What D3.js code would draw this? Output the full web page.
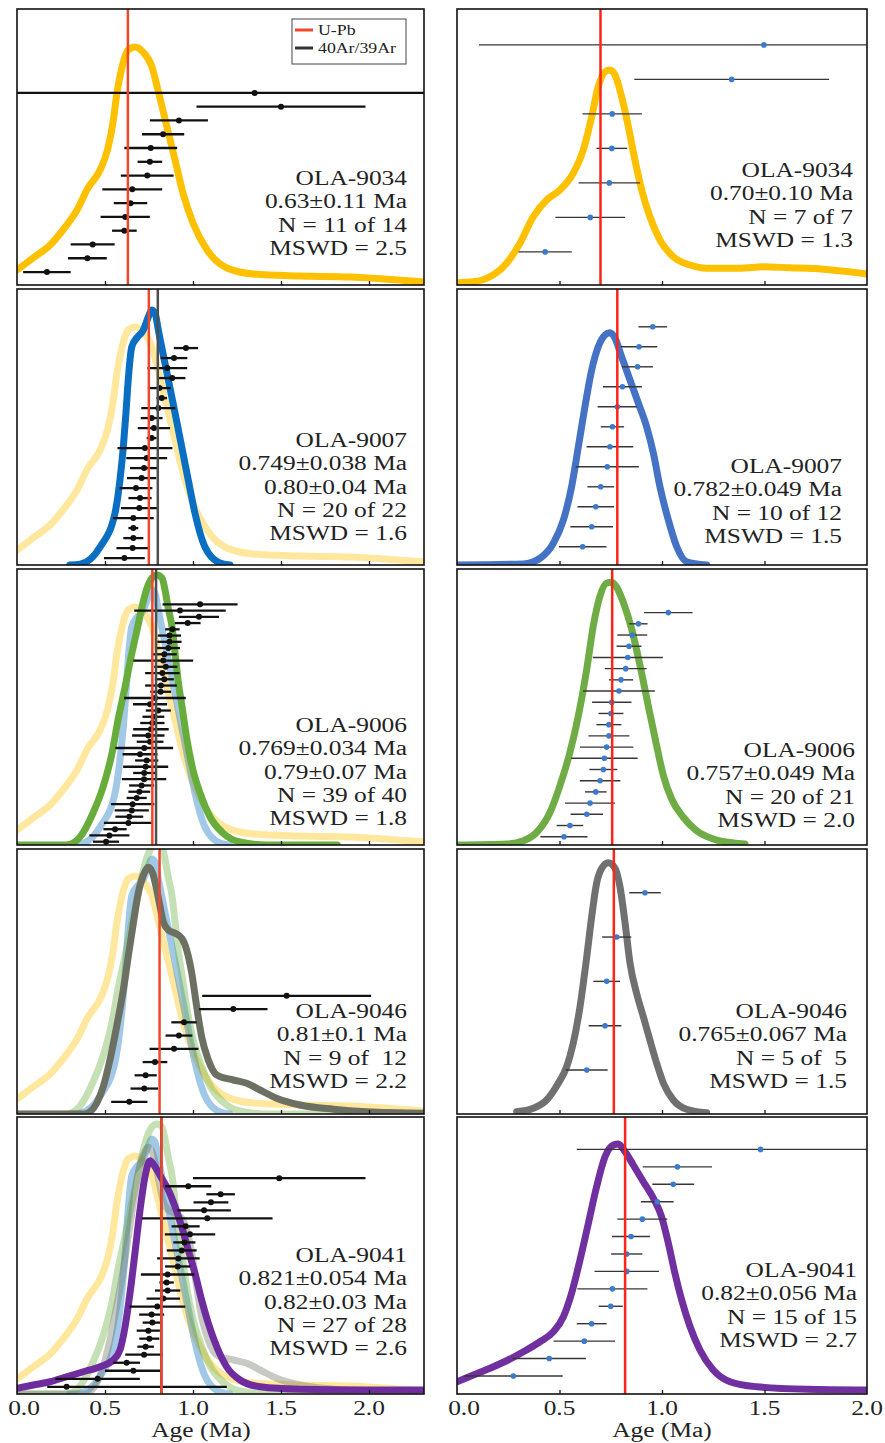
<!DOCTYPE html>
<html>
<head>
<meta charset="utf-8">
<script src="https://cdn.jsdelivr.net/npm/d3@7"></script>
<style>
  html, body { margin: 0; padding: 0; background: #fff; }
  svg { display: block; }
  text { font-family: "Liberation Serif", "Times New Roman", serif; fill: #222; white-space: pre; }
</style>
</head>
<body>
<svg id="chart" width="885" height="1443"></svg>
<script>
// ---------------------------------------------------------------
// Samples, in panel order (top to bottom)
// ---------------------------------------------------------------
const samples = ["OLA-9034", "OLA-9007", "OLA-9006", "OLA-9046", "OLA-9041"];

// Axis ticks
const tickValues = [0.0, 0.5, 1.0, 1.5, 2.0];
const tickLabels = ["0.0", "0.5", "1.0", "1.5", "2.0"];
const axisTitle = "Age (Ma)";
const legendLabels = ["U-Pb", "40Ar/39Ar"];

// ---------------------------------------------------------------
// Left column: single-grain ages (Ma) and 1-sigma errors, oldest on top
// ---------------------------------------------------------------
const leftAges9034 = [1.35, 1.50, 0.92, 0.83, 0.76, 0.755, 0.74, 0.655, 0.645, 0.615, 0.61, 0.43, 0.40, 0.17];
const leftErrs9034 = [1.5, 0.48, 0.165, 0.12, 0.15, 0.07, 0.15, 0.17, 0.095, 0.14, 0.07, 0.125, 0.11, 0.135];

const leftAges9007 = [0.960, 0.892, 0.854, 0.882, 0.809, 0.822, 0.803, 0.765, 0.778, 0.765, 0.727, 0.737,
                      0.722, 0.708, 0.676, 0.699, 0.695, 0.661, 0.661, 0.661, 0.657, 0.610];
const leftErrs9007 = [0.069, 0.076, 0.113, 0.075, 0.065, 0.03, 0.097, 0.062, 0.092, 0.028, 0.156, 0.116,
                      0.08, 0.083, 0.093, 0.066, 0.104, 0.116, 0.028, 0.057, 0.092, 0.116];

const leftAges9006 = [1.04, 0.926, 1.034, 0.970, 0.883, 0.866, 0.866, 0.86, 0.837, 0.831, 0.845, 0.826, 0.837,
                      0.818, 0.816, 0.784, 0.756, 0.803, 0.775, 0.769, 0.761, 0.746, 0.756, 0.723, 0.699, 0.737,
                      0.731, 0.723, 0.722, 0.708, 0.695, 0.680, 0.657, 0.652, 0.638, 0.633, 0.557, 0.525, 0.506];
const leftErrs9006 = [0.213, 0.26, 0.114, 0.073, 0.041, 0.066, 0.069, 0.066, 0.071, 0.17, 0.066, 0.098, 0.054,
                      0.09, 0.059, 0.175, 0.097, 0.071, 0.062, 0.069, 0.101, 0.092, 0.076, 0.164, 0.099, 0.066,
                      0.128, 0.063, 0.126, 0.071, 0.062, 0.057, 0.123, 0.097, 0.079, 0.139, 0.066, 0.114, 0.074];

const leftAges9046 = [1.532, 1.229, 0.949, 0.920, 0.892, 0.784, 0.731, 0.723, 0.638];
const leftErrs9046 = [0.48, 0.194, 0.072, 0.076, 0.139, 0.07, 0.063, 0.078, 0.103];

const leftAges9041 = [1.49, 0.973, 1.157, 1.102, 1.063, 1.081, 0.958, 0.983, 0.951, 0.936, 0.917, 0.913, 0.856,
                      0.850, 0.856, 0.831, 0.797, 0.765, 0.769, 0.746, 0.752, 0.731, 0.722, 0.623, 0.661, 0.458, 0.282];
// a pair is an asymmetric error [minus, plus]
const leftErrs9041 = [0.49, 0.131, 0.081, 0.099, 0.152, 0.371, 0.08, 0.143, 0.063, 0.085, 0.121, 0.072, 0.152,
                      0.041, 0.072, 0.095, 0.159, 0.071, 0.055, 0.066, 0.057, 0.047, 0.107, 0.076, 0.161, 0.24, [0.11, 0.91]];

// Left column: probability density curves [age Ma, relative probability]
const leftKde9034 = [[0,0.060],[0.091,0.108],[0.188,0.160],[0.261,0.220],[0.341,0.300],[0.403,0.388],[0.472,0.460],
  [0.517,0.548],[0.545,0.648],[0.568,0.768],[0.597,0.872],[0.631,0.940],[0.670,0.952],[0.716,0.932],[0.767,0.872],
  [0.801,0.780],[0.852,0.632],[0.898,0.500],[0.943,0.368],[1.0,0.248],[1.08,0.140],[1.193,0.068],[1.341,0.044],
  [1.608,0.036],[1.892,0.032],[2.313,0.012]];
const leftKde9007 = [[0.30,0],[0.358,0.003],[0.472,0.072],[0.557,0.208],[0.585,0.34],[0.604,0.472],[0.619,0.608],
  [0.632,0.74],[0.652,0.872],[0.68,0.908],[0.718,0.94],[0.746,0.992],[0.765,1.02],[0.784,1.008],[0.803,0.94],
  [0.822,0.872],[0.86,0.74],[0.898,0.608],[0.936,0.472],[0.973,0.34],[1.011,0.208],[1.068,0.072],[1.153,0.008],[1.21,0]];
const leftKde9006 = [[0,0],[0.28,0],[0.358,0.032],[0.432,0.128],[0.489,0.232],[0.540,0.368],[0.574,0.5],[0.614,0.632],
  [0.648,0.752],[0.682,0.86],[0.710,0.952],[0.739,1.028],[0.767,1.068],[0.795,1.08],[0.824,1.068],[0.841,1.02],
  [0.858,0.952],[0.881,0.872],[0.898,0.768],[0.915,0.66],[0.938,0.552],[0.966,0.42],[1.0,0.3],[1.04,0.208],
  [1.097,0.112],[1.17,0.048],[1.267,0.012],[1.42,0],[1.82,0]];
const leftKde9046 = [[0,0],[0.38,0],[0.415,0.009],[0.453,0.043],[0.49,0.109],[0.528,0.216],[0.566,0.349],[0.604,0.496],
  [0.632,0.629],[0.661,0.763],[0.689,0.883],[0.718,0.956],[0.746,0.987],[0.771,0.963],[0.794,0.896],[0.813,0.829],
  [0.831,0.769],[0.86,0.736],[0.898,0.723],[0.936,0.703],[0.964,0.656],[0.993,0.563],[1.021,0.429],[1.049,0.309],
  [1.087,0.216],[1.135,0.156],[1.229,0.136],[1.305,0.123],[1.381,0.096],[1.475,0.063],[1.608,0.036],[1.797,0.019],
  [1.987,0.009],[2.313,0.003]];
const leftKde9041 = [[0,0.023],[0.093,0.036],[0.188,0.049],[0.282,0.069],[0.377,0.089],[0.472,0.109],[0.547,0.136],
  [0.585,0.176],[0.614,0.269],[0.642,0.403],[0.670,0.563],[0.699,0.736],[0.727,0.869],[0.756,0.933],[0.784,0.909],
  [0.822,0.863],[0.860,0.816],[0.898,0.749],[0.936,0.669],[0.973,0.576],[1.011,0.483],[1.049,0.376],[1.087,0.283],
  [1.135,0.189],[1.191,0.109],[1.267,0.056],[1.381,0.029],[1.608,0.019],[1.987,0.016],[2.313,0.016]];

// Left column: weighted mean U-Pb age and 40Ar/39Ar age (Ma)
const leftUPb = [0.63, 0.749, 0.769, 0.81, 0.821];
const leftArAr = [null, 0.80, 0.79, null, 0.82];

const leftText9034 = ["OLA-9034", "0.63±0.11 Ma", "N = 11 of 14", "MSWD = 2.5"];
const leftText9007 = ["OLA-9007", "0.749±0.038 Ma", "0.80±0.04 Ma", "N = 20 of 22", "MSWD = 1.6"];
const leftText9006 = ["OLA-9006", "0.769±0.034 Ma", "0.79±0.07 Ma", "N = 39 of 40", "MSWD = 1.8"];
const leftText9046 = ["OLA-9046", "0.81±0.1 Ma", "N = 9 of  12", "MSWD = 2.2"];
const leftText9041 = ["OLA-9041", "0.821±0.054 Ma", "0.82±0.03 Ma", "N = 27 of 28", "MSWD = 2.6"];

// ---------------------------------------------------------------
// Right column
// ---------------------------------------------------------------
const rightAges9034 = [1.497, 1.34, 0.757, 0.755, 0.743, 0.65, 0.43];
const rightErrs9034 = [1.39, 0.475, 0.145, 0.075, 0.15, 0.17, 0.13];

const rightAges9007 = [0.955, 0.888, 0.881, 0.807, 0.782, 0.758, 0.746, 0.733, 0.701, 0.677, 0.657, 0.613];
const rightErrs9007 = [0.07, 0.089, 0.075, 0.095, 0.096, 0.057, 0.114, 0.154, 0.065, 0.089, 0.104, 0.116];

const rightAges9006 = [1.031, 0.885, 0.855, 0.839, 0.833, 0.823, 0.8, 0.79, 0.755, 0.751, 0.741, 0.741, 0.730,
                       0.719, 0.714, 0.698, 0.677, 0.649, 0.633, 0.551, 0.522];
const rightErrs9006 = [0.118, 0.045, 0.073, 0.061, 0.171, 0.102, 0.059, 0.175, 0.096, 0.061, 0.061, 0.1, 0.13,
                       0.162, 0.068, 0.099, 0.053, 0.122, 0.079, 0.065, 0.115];

const rightAges9046 = [0.917, 0.779, 0.730, 0.722, 0.633];
const rightErrs9046 = [0.077, 0.071, 0.065, 0.08, 0.102];

const rightAges9041 = [1.481, 1.075, 1.055, 0.977, 0.904, 0.849, 0.828, 0.828, 0.758, 0.75, 0.657, 0.621, 0.45, 0.275];
const rightErrs9041 = [0.897, 0.169, 0.102, 0.08, 0.122, 0.093, 0.076, 0.157, 0.171, 0.059, 0.073, 0.15, 0.179, 0.241];

const rightKde9034 = [[0,0.009],[0.08,0.013],[0.161,0.033],[0.242,0.087],[0.307,0.167],[0.372,0.273],[0.437,0.34],
  [0.502,0.38],[0.567,0.447],[0.616,0.54],[0.657,0.673],[0.689,0.793],[0.722,0.853],[0.746,0.86],[0.771,0.84],
  [0.803,0.753],[0.836,0.633],[0.868,0.5],[0.901,0.38],[0.941,0.273],[0.99,0.18],[1.055,0.113],[1.137,0.08],
  [1.218,0.067],[1.38,0.067],[1.494,0.073],[1.624,0.069],[1.787,0.063],[2.0,0.044]];
const rightKde9007 = [[0,0],[0.324,0.004],[0.405,0.027],[0.47,0.087],[0.519,0.18],[0.559,0.313],[0.592,0.473],
  [0.624,0.633],[0.657,0.78],[0.689,0.873],[0.722,0.92],[0.746,0.929],[0.771,0.907],[0.803,0.833],[0.844,0.74],
  [0.885,0.647],[0.925,0.553],[0.958,0.447],[0.99,0.313],[1.031,0.18],[1.072,0.073],[1.12,0.013],[1.218,0]];
const rightKde9006 = [[0,0],[0.242,0.004],[0.324,0.017],[0.389,0.051],[0.454,0.131],[0.502,0.237],[0.551,0.371],
  [0.592,0.517],[0.633,0.704],[0.665,0.877],[0.698,0.997],[0.73,1.048],[0.755,1.051],[0.779,1.031],[0.811,0.971],
  [0.852,0.864],[0.893,0.717],[0.933,0.557],[0.974,0.397],[1.007,0.277],[1.047,0.184],[1.104,0.111],[1.169,0.057],
  [1.25,0.024],[1.348,0.008],[1.405,0.004]];
const rightKde9046 = [[0.291,0.009],[0.372,0.023],[0.437,0.056],[0.494,0.123],[0.535,0.189],[0.567,0.283],[0.6,0.429],
  [0.633,0.629],[0.657,0.789],[0.681,0.923],[0.706,0.983],[0.738,1.005],[0.771,0.983],[0.795,0.909],[0.82,0.763],
  [0.844,0.603],[0.876,0.483],[0.909,0.389],[0.941,0.296],[0.974,0.203],[1.007,0.123],[1.055,0.056],[1.12,0.019],
  [1.218,0.005]];
const rightKde9041 = [[0,0.049],[0.08,0.076],[0.161,0.103],[0.242,0.133],[0.324,0.169],[0.405,0.209],[0.47,0.249],
  [0.519,0.309],[0.559,0.403],[0.6,0.536],[0.641,0.683],[0.681,0.829],[0.722,0.949],[0.763,0.996],[0.787,1.0],
  [0.82,0.969],[0.86,0.916],[0.909,0.849],[0.958,0.783],[0.998,0.709],[1.031,0.603],[1.063,0.483],[1.096,0.376],
  [1.137,0.269],[1.185,0.176],[1.25,0.096],[1.332,0.049],[1.462,0.029],[1.706,0.019],[2.0,0.016]];

const rightUPb = [0.70, 0.782, 0.757, 0.765, 0.82];

const rightText9034 = ["OLA-9034", "0.70±0.10 Ma", "N = 7 of 7", "MSWD = 1.3"];
const rightText9007 = ["OLA-9007", "0.782±0.049 Ma", "N = 10 of 12", "MSWD = 1.5"];
const rightText9006 = ["OLA-9006", "0.757±0.049 Ma", "N = 20 of 21", "MSWD = 2.0"];
const rightText9046 = ["OLA-9046", "0.765±0.067 Ma", "N = 5 of  5", "MSWD = 1.5"];
const rightText9041 = ["OLA-9041", "0.82±0.056 Ma", "N = 15 of 15", "MSWD = 2.7"];

// ---------------------------------------------------------------
// Styling and layout
// ---------------------------------------------------------------
const leftColors  = ["#FFC000", "#0A6FC2", "#68AD3C", "#6C7062", "#6E2C9F"];
const rightColors = ["#FFC000", "#4472C4", "#6FAC45", "#707070", "#7030A0"];
const UPB_LEFT = "#F0472C", UPB_RIGHT = "#FF2418", AR_COLOR = "#4F4F4F";
const TEXT_STRETCH = 1.27;      // glyphs are drawn horizontally widened
const DENSITY_PX = 250;         // pixels per unit of relative probability
const LINE_STEP = 23.3;

const rowTops    = [9, 289, 569, 849, 1117];
const rowBottoms = [285, 565, 845, 1114, 1394];

const leftX  = d3.scaleLinear().domain([0, 2.3125]).range([17, 424]);
const rightX = d3.scaleLinear().domain([0, 2.0]).range([457, 867]);

const leftPanels = [
  { ages: leftAges9034, errs: leftErrs9034, kde: leftKde9034, text: leftText9034, barSpan: [0.304, 0.953], textTop: 176, inset: 17 },
  { ages: leftAges9007, errs: leftErrs9007, kde: leftKde9007, text: leftText9007, barSpan: [0.214, 0.975], textTop: 158, inset: 17 },
  { ages: leftAges9006, errs: leftErrs9006, kde: leftKde9006, text: leftText9006, barSpan: [0.128, 0.988], textTop: 163, inset: 17 },
  { ages: leftAges9046, errs: leftErrs9046, kde: leftKde9046, text: leftText9046, barSpan: [0.554, 0.954], textTop: 169, inset: 17 },
  { ages: leftAges9041, errs: leftErrs9041, kde: leftKde9041, text: leftText9041, barSpan: [0.221, 0.974], textTop: 145, inset: 17 }
];
const rightPanels = [
  { ages: rightAges9034, errs: rightErrs9034, kde: rightKde9034, text: rightText9034, barSpan: [0.130, 0.880], textTop: 168, inset: 14 },
  { ages: rightAges9007, errs: rightErrs9007, kde: rightKde9007, text: rightText9007, barSpan: [0.137, 0.934], textTop: 184, inset: 25 },
  { ages: rightAges9006, errs: rightErrs9006, kde: rightKde9006, text: rightText9006, barSpan: [0.158, 0.970], textTop: 188, inset: 12 },
  { ages: rightAges9046, errs: rightErrs9046, kde: rightKde9046, text: rightText9046, barSpan: [0.165, 0.834], textTop: 169, inset: 20 },
  { ages: rightAges9041, errs: rightErrs9041, kde: rightKde9041, text: rightText9041, barSpan: [0.117, 0.935], textTop: 160, inset: 10 }
];

const svg = d3.select("#chart");
svg.append("rect").attr("width", 885).attr("height", 1443).attr("fill", "#fff");
const defs = svg.append("defs");

function stretchedText(g, x, y, str, anchor, size) {
  return g.append("text")
    .attr("transform", `translate(${x},${y}) scale(${TEXT_STRETCH},1)`)
    .attr("text-anchor", anchor)
    .attr("xml:space", "preserve")
    .style("font-size", size + "px")
    .text(str);
}

function drawPanel(panel, col, row) {
  const left = col === 0;
  const x = left ? leftX : rightX;
  const colors = left ? leftColors : rightColors;
  const top = rowTops[row], bottom = rowBottoms[row], h = bottom - top;
  const [x0, x1] = x.range();
  const y = d3.scaleLinear().domain([0, h / DENSITY_PX]).range([bottom, top]);

  const clipId = `clip-${col}-${row}`;
  defs.append("clipPath").attr("id", clipId)
    .append("rect").attr("x", x0).attr("y", top).attr("width", x1 - x0).attr("height", h);

  const g = svg.append("g");
  const body = g.append("g").attr("clip-path", `url(#${clipId})`);

  const line = d3.line().x(d => x(d[0])).y(d => y(d[1])).curve(d3.curveMonotoneX);

  // curves of the samples above, faded, in the left column
  if (left) {
    for (let k = 0; k < row; k++) {
      body.append("path")
        .attr("d", line(leftPanels[k].kde))
        .attr("fill", "none")
        .attr("stroke", colors[k])
        .attr("stroke-opacity", 0.38)
        .attr("stroke-width", 7)
        .attr("stroke-linejoin", "round")
        .attr("stroke-linecap", "round");
    }
  }

  body.append("path")
    .attr("d", line(panel.kde))
    .attr("fill", "none")
    .attr("stroke", colors[row])
    .attr("stroke-width", 7)
    .attr("stroke-linejoin", "round")
    .attr("stroke-linecap", "round");

  // individual ages with error bars
  const yb = d3.scalePoint()
    .domain(d3.range(panel.ages.length))
    .range([top + panel.barSpan[0] * h, top + panel.barSpan[1] * h]);
  const bars = body.append("g");
  panel.ages.forEach((a, i) => {
    const e = panel.errs[i];
    const lo = Array.isArray(e) ? a - e[0] : a - e;
    const hi = Array.isArray(e) ? a + e[1] : a + e;
    bars.append("line")
      .attr("x1", x(lo)).attr("x2", x(hi))
      .attr("y1", yb(i)).attr("y2", yb(i))
      .attr("stroke", left ? "#111" : "#3a3535")
      .attr("stroke-width", left ? 2.3 : 1.4);
    bars.append("circle")
      .attr("cx", x(a)).attr("cy", yb(i))
      .attr("r", left ? 3 : 2.8)
      .attr("fill", left ? "#111" : "#3B7BCB");
  });

  // reference ages
  if (left && leftArAr[row] != null) {
    body.append("line")
      .attr("x1", x(leftArAr[row])).attr("x2", x(leftArAr[row]))
      .attr("y1", top).attr("y2", bottom)
      .attr("stroke", AR_COLOR).attr("stroke-width", 2.5);
  }
  const upb = left ? leftUPb[row] : rightUPb[row];
  body.append("line")
    .attr("x1", x(upb)).attr("x2", x(upb))
    .attr("y1", top).attr("y2", bottom)
    .attr("stroke", left ? UPB_LEFT : UPB_RIGHT).attr("stroke-width", 2.5);

  // inward ticks on the bottom edge
  const axisG = g.append("g")
    .attr("transform", `translate(0,${bottom})`)
    .call(d3.axisBottom(x)
      .tickValues(tickValues.filter(v => x(v) > x0 + 1 && x(v) < x1 - 1))
      .tickSize(-4).tickFormat(""));
  axisG.select(".domain").remove();
  axisG.selectAll(".tick line").attr("stroke", "#111").attr("stroke-width", 1.3);

  // frame
  g.append("rect")
    .attr("x", x0).attr("y", top).attr("width", x1 - x0).attr("height", h)
    .attr("fill", "none").attr("stroke", "#111").attr("stroke-width", 1.6);

  // sample statistics
  panel.text.forEach((s, i) => {
    stretchedText(g, x1 - panel.inset, top + panel.textTop + i * LINE_STEP, s, "end", 20);
  });

  // tick labels and axis title under the bottom row
  if (row === rowTops.length - 1) {
    tickValues.forEach((v, i) => {
      if (x(v) <= x1 + 1) stretchedText(g, x(v) + (i === 0 ? 7 : 0), bottom + 21, tickLabels[i], "middle", 20);
    });
    stretchedText(g, left ? 201 : (x0 + x1) / 2, bottom + 43, axisTitle, "middle", 20);
  }
}

leftPanels.forEach((p, r) => drawPanel(p, 0, r));
rightPanels.forEach((p, r) => drawPanel(p, 1, r));

// legend in the first panel
const legend = svg.append("g");
legend.append("rect").attr("x", 292).attr("y", 19).attr("width", 114).attr("height", 45)
  .attr("fill", "#fff").attr("stroke", "#444").attr("stroke-width", 1);
legend.append("line").attr("x1", 295).attr("x2", 313).attr("y1", 30).attr("y2", 30)
  .attr("stroke", UPB_LEFT).attr("stroke-width", 3);
legend.append("line").attr("x1", 295).attr("x2", 313).attr("y1", 48).attr("y2", 48)
  .attr("stroke", "#333").attr("stroke-width", 3);
stretchedText(legend, 318, 35, legendLabels[0], "start", 14);
stretchedText(legend, 318, 53, legendLabels[1], "start", 14);
</script>
</body>
</html>
